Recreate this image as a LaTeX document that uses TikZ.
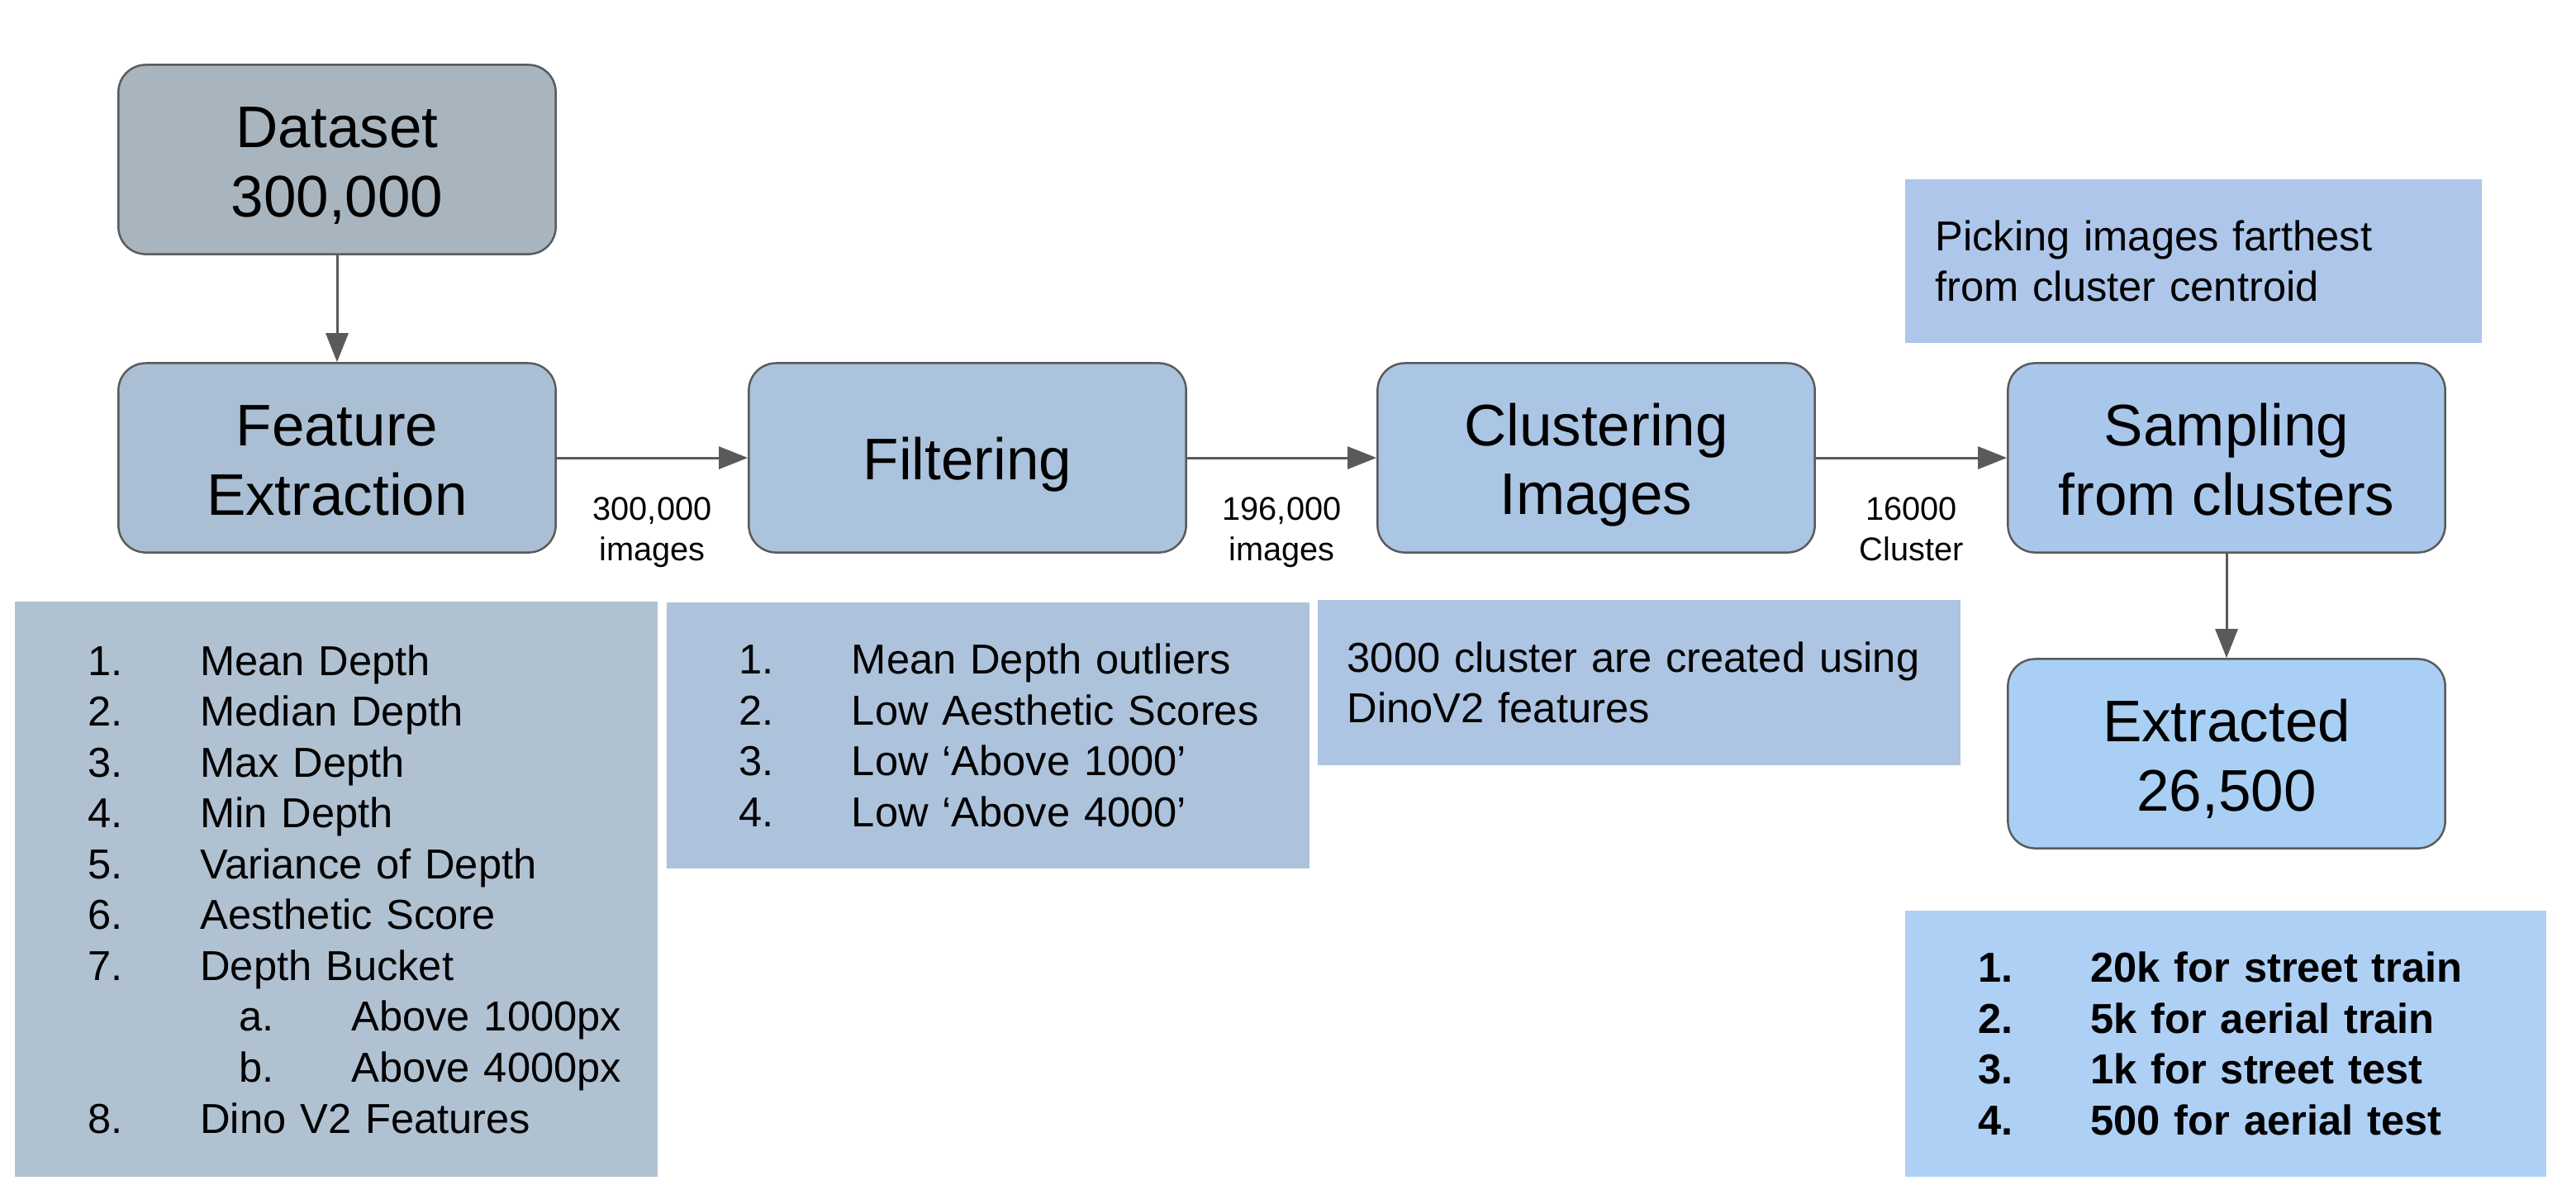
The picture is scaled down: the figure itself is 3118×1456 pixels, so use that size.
\documentclass[tikz,border=0pt]{standalone}
\usepackage{fontspec}
\setmainfont{Liberation Sans}
\usepackage{tikz}
\usetikzlibrary{arrows.meta, positioning}

\definecolor{edgegray}{HTML}{5A5A5A}
\definecolor{dataFill}{HTML}{A8B5BF}
\definecolor{featFill}{HTML}{AABFD3}
\definecolor{filtFill}{HTML}{ABC3DC}
\definecolor{clustFill}{HTML}{ABC5E5}
\definecolor{sampFill}{HTML}{A9C7EB}
\definecolor{extrFill}{HTML}{A9D0F4}
\definecolor{featListFill}{HTML}{B0C1D2}
\definecolor{filtListFill}{HTML}{ADC3DC}
\definecolor{clustNoteFill}{HTML}{ADC4E2}
\definecolor{pickNoteFill}{HTML}{ADC6EA}
\definecolor{splitListFill}{HTML}{AFD0F5}

\newcommand{\listrow}[2]{\hspace*{0.88cm}\makebox[1.36cm][l]{#1}#2}
\newcommand{\subrow}[2]{\hspace*{2.71cm}\makebox[1.36cm][l]{#1}#2}
\newcommand{\linestrut}{\rule[-3.9pt]{0pt}{23.4pt}}

\begin{document}
\begin{tikzpicture}[x=0.01cm, y=-0.01cm,
  stage/.style={draw=edgegray, line width=0.7pt, rounded corners=0.33cm,
    minimum width=5.29cm, minimum height=2.29cm, inner sep=0pt,
    align=center, font=\fontsize{20.2}{23.8}\selectfont},
  infobox/.style={inner sep=0pt, align=left, font=\fontsize{14.4}{17.5}\selectfont},
  notebox/.style={inner ysep=0pt, inner xsep=0.36cm, align=left,
    font=\fontsize{14.4}{17.5}\selectfont},
  flow/.style={draw=edgegray, line width=0.85pt, -{Triangle[length=0.35cm, width=0.27cm]}},
  countlabel/.style={below=0.46cm, inner sep=0pt, align=center,
    font=\fontsize{11.3}{14}\selectfont}
]

  \useasboundingbox (0,0) rectangle (3118,1456);

  % pipeline stages
  \node[stage, fill=dataFill] (dataset) at (408,193) {\linestrut Dataset\\\linestrut 300,000};
  \node[stage, fill=featFill] (feat) at (408,554) {\linestrut Feature\\\linestrut Extraction};
  \node[stage, fill=filtFill] (filt) at (1171,554) {\linestrut Filtering};
  \node[stage, fill=clustFill] (clust) at (1932,554) {\linestrut Clustering\\\linestrut Images};
  \node[stage, fill=sampFill] (samp) at (2695,554) {\linestrut Sampling\\\linestrut from clusters};
  \node[stage, fill=extrFill] (extr) at (2695,912) {\linestrut Extracted\\\linestrut 26,500};

  % arrows with counts
  \draw[flow] (dataset) -- (feat);
  \draw[flow] (feat) -- node[countlabel] (featcount) {300,000\\images} (filt);
  \draw[flow] (filt) -- node[countlabel] (filtcount) {196,000\\images} (clust);
  \draw[flow] (clust) -- node[countlabel] (clustcount) {16000\\Cluster} (samp);
  \draw[flow] (samp) -- (extr);

  % detail boxes
  \node[infobox, fill=featListFill, text width=7.77cm, minimum height=6.96cm]
    (featlist) at (407,1076) {%
    \listrow{1.}{Mean Depth}\\
    \listrow{2.}{Median Depth}\\
    \listrow{3.}{Max Depth}\\
    \listrow{4.}{Min Depth}\\
    \listrow{5.}{Variance of Depth}\\
    \listrow{6.}{Aesthetic Score}\\
    \listrow{7.}{Depth Bucket}\\
    \subrow{a.}{Above 1000px}\\
    \subrow{b.}{Above 4000px}\\
    \listrow{8.}{Dino V2 Features}};

  \node[infobox, fill=filtListFill, text width=7.78cm, minimum height=3.22cm]
    (filtlist) at (1196,890) {%
    \listrow{1.}{Mean Depth outliers}\\
    \listrow{2.}{Low Aesthetic Scores}\\
    \listrow{3.}{Low ‘Above 1000’}\\
    \listrow{4.}{Low ‘Above 4000’}};

  \node[notebox, fill=clustNoteFill, text width=7.06cm, minimum height=1.99cm]
    (clustnote) at (1984,826) {3000 cluster are created using\\DinoV2 features};

  \node[notebox, fill=pickNoteFill, text width=6.25cm, minimum height=1.97cm]
    (picknote) at (2655,316) {Picking images farthest\\from cluster centroid};

  \node[infobox, fill=splitListFill, text width=7.75cm, minimum height=3.22cm,
    font=\fontsize{14.4}{17.5}\selectfont\bfseries]
    (splitlist) at (2694,1263) {%
    \listrow{1.}{20k for street train}\\
    \listrow{2.}{5k for aerial train}\\
    \listrow{3.}{1k for street test}\\
    \listrow{4.}{500 for aerial test}};

\end{tikzpicture}
\end{document}
